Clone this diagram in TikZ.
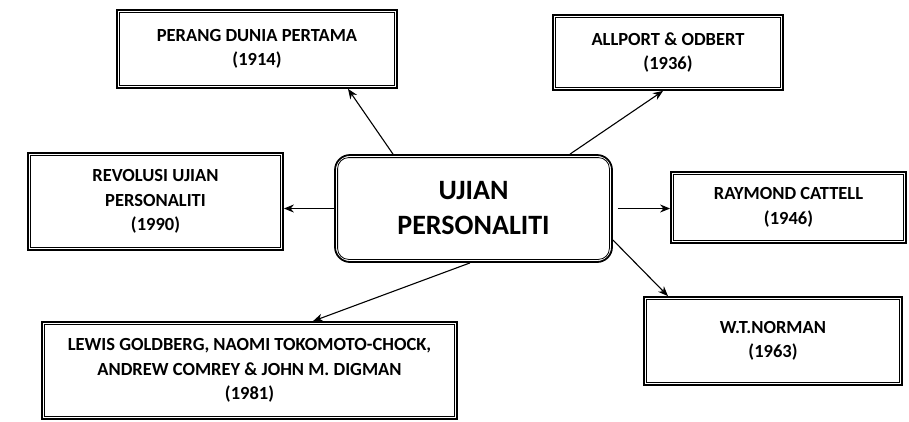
\documentclass[tikz,border=0pt]{standalone}
\usepackage{fontspec}
\setmainfont{Carlito}
\usetikzlibrary{arrows.meta}
\begin{document}
\begin{tikzpicture}[x=1pt,y=-1pt,
  box/.style={draw=black, line width=1.8pt, inner sep=0pt, align=center,
    font=\bfseries\fontsize{18.5}{24.5}\selectfont},
  hub/.style={draw=black, line width=1.8pt, rounded corners=15pt, inner sep=0pt, align=center,
    font=\bfseries\fontsize{28}{35}\selectfont},
  inner/.style={line width=0.8pt},
  arr/.style={-{Stealth[length=10pt,width=8pt]}, line width=1.1pt},
]
\fill[white] (0,0) rectangle (909,421);
\useasboundingbox (0,0) rectangle (909,421);

\node[hub, minimum width=277pt, minimum height=107pt] (center) at (473.5,208.5) {UJIAN\\PERSONALITI};

\node[box, minimum width=280pt, minimum height=78pt] (perang) at (257,49) {PERANG DUNIA PERTAMA\\(1914)};
\node[box, minimum width=230pt, minimum height=75pt] (allport) at (668,52.5) {ALLPORT \& ODBERT\\(1936)};
\node[box, minimum width=255pt, minimum height=97pt] (revolusi) at (155.5,201.5) {REVOLUSI UJIAN\\PERSONALITI\\(1990)};
\node[box, minimum width=235pt, minimum height=71pt] (raymond) at (788.5,207.5) {RAYMOND CATTELL\\(1946)};
\node[box, minimum width=258pt, minimum height=88pt] (norman) at (773,341) {W.T.NORMAN\\(1963)};
\node[box, minimum width=415pt, minimum height=97pt] (lewis) at (249.5,370.5) {LEWIS GOLDBERG, NAOMI TOKOMOTO-CHOCK,\\ANDREW COMREY \& JOHN M. DIGMAN\\(1981)};

\foreach \n in {perang,allport,revolusi,raymond,norman,lewis}
  \draw[inner] ([shift={(3.5pt,-3.5pt)}]\n.north west) rectangle ([shift={(-3.5pt,3.5pt)}]\n.south east);
\draw[inner, rounded corners=11pt] ([shift={(3.5pt,-3.5pt)}]center.north west) rectangle ([shift={(-3.5pt,3.5pt)}]center.south east);

\draw[arr] ([xshift=-80.5pt]center.north) -- ([xshift=91pt]perang.south);
\draw[arr] ([xshift=96.5pt]center.north) -- ([xshift=-5pt]allport.south);
\draw[arr] (center.west) -- (center.west -| revolusi.east);
\draw[arr] ([xshift=5pt]center.east) -- (center.east -| raymond.west);
\draw[arr] ([yshift=-31.5pt]center.east) -- ([xshift=-105pt]norman.north);
\draw[arr] ([xshift=-3.5pt]center.south) -- ([xshift=63.5pt]lewis.north);
\end{tikzpicture}
\end{document}
